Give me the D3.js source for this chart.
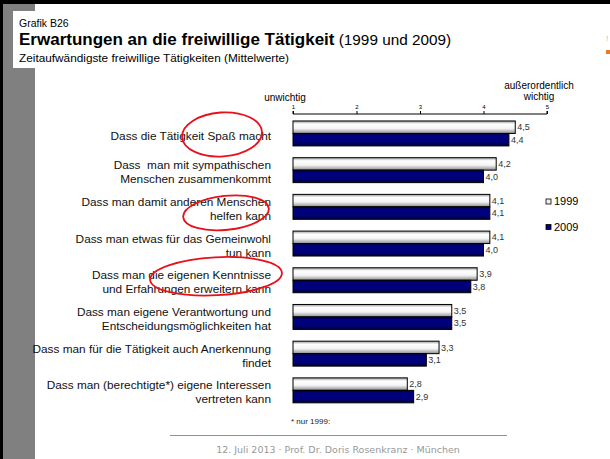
<!DOCTYPE html>
<html>
<head>
<meta charset="utf-8">
<script src="https://cdn.jsdelivr.net/npm/d3@7"></script>
<style>
  body { margin: 0; background: #fff; }
  svg { display: block; font-family: "Liberation Sans", Arial, sans-serif; }
  .cat { white-space: pre; }
</style>
</head>
<body>
<script>
// data
let categories = [
  ["Dass die Tätigkeit Spaß macht"],
  ["Dass  man mit sympathischen", "Menschen zusammenkommt"],
  ["Dass man damit anderen Menschen", "helfen kann"],
  ["Dass man etwas für das Gemeinwohl", "tun kann"],
  ["Dass man die eigenen Kenntnisse", "und Erfahrungen erweitern kann"],
  ["Dass man eigene Verantwortung und", "Entscheidungsmöglichkeiten hat"],
  ["Dass man für die Tätigkeit auch Anerkennung", "findet"],
  ["Dass man (berechtigte*) eigene Interessen", "vertreten kann"]
];
let series = ["1999", "2009"];
let values_1999 = [4.5, 4.2, 4.1, 4.1, 3.9, 3.5, 3.3, 2.8];
let values_2009 = [4.4, 4.0, 4.1, 4.0, 3.8, 3.5, 3.1, 2.9];
let tick_values = [1, 2, 3, 4, 5];
// which labels got a red circle in the slide
let circled = [0, 2, 4];

let width = 610, height = 459;
let svg = d3.select("body").append("svg")
  .attr("width", width)
  .attr("height", height);

let defs = svg.append("defs");
let g1 = defs.append("linearGradient").attr("id", "grad1999")
  .attr("x1", 0).attr("y1", 0).attr("x2", 0).attr("y2", 1);
g1.append("stop").attr("offset", "0%").attr("stop-color", "#9a9a9a");
g1.append("stop").attr("offset", "25%").attr("stop-color", "#ffffff");
g1.append("stop").attr("offset", "60%").attr("stop-color", "#f4f4f4");
g1.append("stop").attr("offset", "100%").attr("stop-color", "#8c8c8c");
let g2 = defs.append("linearGradient").attr("id", "grad2009")
  .attr("x1", 0).attr("y1", 0).attr("x2", 0).attr("y2", 1);
g2.append("stop").attr("offset", "0%").attr("stop-color", "#000050");
g2.append("stop").attr("offset", "25%").attr("stop-color", "#000080");
g2.append("stop").attr("offset", "70%").attr("stop-color", "#000078");
g2.append("stop").attr("offset", "100%").attr("stop-color", "#00003a");

// slide frame
svg.append("rect").attr("width", width).attr("height", height).attr("fill", "#fff");
svg.append("rect").attr("x", 0).attr("y", 0).attr("width", width).attr("height", 4).attr("fill", "#000");
svg.append("rect").attr("x", 0).attr("y", 0).attr("width", 3).attr("height", height).attr("fill", "#000");
svg.append("rect").attr("x", 3).attr("y", 4).attr("width", 32).attr("height", height - 4).attr("fill", "#808080");
svg.append("rect").attr("x", 13).attr("y", 11).attr("width", 120).attr("height", 57).attr("fill", "#fff");
svg.append("rect").attr("x", 606).attr("y", 50).attr("width", 4).attr("height", 4).attr("fill", "#f07820");
svg.append("text").attr("x", 606).attr("y", 41).attr("font-size", 8).attr("fill", "#bbb").text("!");

// header
svg.append("text").attr("x", 19).attr("y", 27).attr("font-size", 10.5).text("Grafik B26");
let title = svg.append("text").attr("x", 19).attr("y", 45);
title.append("tspan").attr("font-size", 17).attr("font-weight", "bold")
  .text("Erwartungen an die freiwillige Tätigkeit");
title.append("tspan").attr("font-size", 15.3).text(" (1999 und 2009)");
svg.append("text").attr("x", 19).attr("y", 62).attr("font-size", 11.8)
  .text("Zeitaufwändigste freiwillige Tätigkeiten (Mittelwerte)");

// scales
let x = d3.scaleLinear().domain([1, 5]).range([293, 547]);
let y = d3.scaleBand().domain(d3.range(categories.length))
  .range([115.1, 408.7]).paddingInner(0.32).paddingOuter(0.16);
let ys = d3.scaleBand().domain(series).range([0, y.bandwidth()]);

// axis on top
let axis = svg.append("g")
  .attr("transform", "translate(0,114)")
  .call(d3.axisTop(x).tickValues(tick_values).tickSize(3).tickPadding(2)
    .tickFormat(d3.format("d")));
axis.select(".domain").attr("d", "M" + x(1) + ",-3V0H" + x(5) + "V-3").attr("stroke", "#000");
axis.selectAll("text").attr("font-size", 6).attr("font-family", "Liberation Sans, Arial, sans-serif");

svg.append("text").attr("x", 285).attr("y", 101).attr("text-anchor", "middle")
  .attr("font-size", 10).text("unwichtig");
svg.append("text").attr("x", 539).attr("y", 89).attr("text-anchor", "middle")
  .attr("font-size", 10).text("außerordentlich");
svg.append("text").attr("x", 539).attr("y", 100).attr("text-anchor", "middle")
  .attr("font-size", 10).text("wichtig");

// bars
let rows = categories.map(function (c, i) {
  return { i: i, v: [values_1999[i], values_2009[i]] };
});
let row = svg.selectAll(".row").data(rows).enter().append("g")
  .attr("class", "row")
  .attr("transform", function (d) { return "translate(0," + y(d.i) + ")"; });

row.selectAll("rect").data(function (d) {
  return series.map(function (s, k) { return { s: s, v: d.v[k] }; });
}).enter().append("rect")
  .attr("x", x(1))
  .attr("y", function (d) { return ys(d.s); })
  .attr("width", function (d) { return x(d.v) - x(1); })
  .attr("height", ys.bandwidth())
  .attr("fill", function (d) { return d.s === "1999" ? "url(#grad1999)" : "url(#grad2009)"; })
  .attr("stroke", "#000")
  .attr("stroke-width", 1);

row.selectAll(".val").data(function (d) {
  return series.map(function (s, k) { return { s: s, v: d.v[k] }; });
}).enter().append("text")
  .attr("class", "val")
  .attr("x", function (d) { return x(d.v) + 2; })
  .attr("y", function (d) { return ys(d.s) + ys.bandwidth() / 2; })
  .attr("dy", "0.35em")
  .attr("font-size", 9)
  .attr("fill", "#333")
  .text(function (d) { return d3.format(".1f")(d.v).replace(".", ","); });

// category labels
let lab = svg.selectAll(".cat").data(categories).enter().append("text")
  .attr("class", "cat")
  .attr("text-anchor", "end")
  .attr("font-size", 11.8)
  .attr("fill", "#111")
  .attr("transform", function (d, i) {
    return "translate(271," + (y(i) + y.bandwidth() / 2 + 2) + ")";
  });
lab.selectAll("tspan").data(function (d) {
  return d.map(function (t, k) { return { t: t, k: k, n: d.length }; });
}).enter().append("tspan")
  .attr("x", 0)
  .attr("y", function (d) { return (d.k - (d.n - 1) / 2) * 14; })
  .attr("dy", "0.35em")
  .text(function (d) { return d.t; });

// red circles drawn on the slide
let rings = [
  { cx: 222, dy: 1, rx: 40, ry: 22, rot: -4 },
  { cx: 226, dy: 6, rx: 43, ry: 17, rot: -6 },
  { cx: 216, dy: -4, rx: 66, ry: 19, rot: -3 }
];
svg.selectAll(".ring").data(circled).enter().append("ellipse")
  .attr("class", "ring")
  .attr("cx", 0).attr("cy", 0)
  .attr("rx", function (d, k) { return rings[k].rx; })
  .attr("ry", function (d, k) { return rings[k].ry; })
  .attr("transform", function (d, k) {
    return "translate(" + rings[k].cx + "," + (y(d) + y.bandwidth() / 2 + rings[k].dy) +
      ") rotate(" + rings[k].rot + ")";
  })
  .attr("fill", "none")
  .attr("stroke", "#e8101a")
  .attr("stroke-width", 1.8);

// legend
let legend = svg.selectAll(".leg").data(series).enter().append("g")
  .attr("class", "leg")
  .attr("transform", function (d, i) { return "translate(546," + (199 + i * 25.5) + ")"; });
legend.append("rect")
  .attr("width", 5).attr("height", 5)
  .attr("fill", function (d) { return d === "1999" ? "#eee" : "#000080"; })
  .attr("stroke", "#000").attr("stroke-width", 0.8);
legend.append("text")
  .attr("x", 8).attr("y", 2.5).attr("dy", "0.35em")
  .attr("font-size", 11)
  .text(function (d) { return d; });

// footnote and footer
svg.append("text").attr("x", 291).attr("y", 424).attr("font-size", 8).attr("fill", "#222")
  .text("* nur 1999:");
svg.append("line").attr("x1", 170).attr("x2", 507).attr("y1", 435.5).attr("y2", 435.5)
  .attr("stroke", "#e87a2a").attr("stroke-width", 1);
svg.append("text").attr("x", 338).attr("y", 452.5).attr("text-anchor", "middle")
  .attr("font-size", 9.5).attr("font-family", "DejaVu Sans, Verdana, sans-serif")
  .attr("fill", "#999")
  .text("12. Juli 2013 · Prof. Dr. Doris Rosenkranz · München");
</script>
</body>
</html>
